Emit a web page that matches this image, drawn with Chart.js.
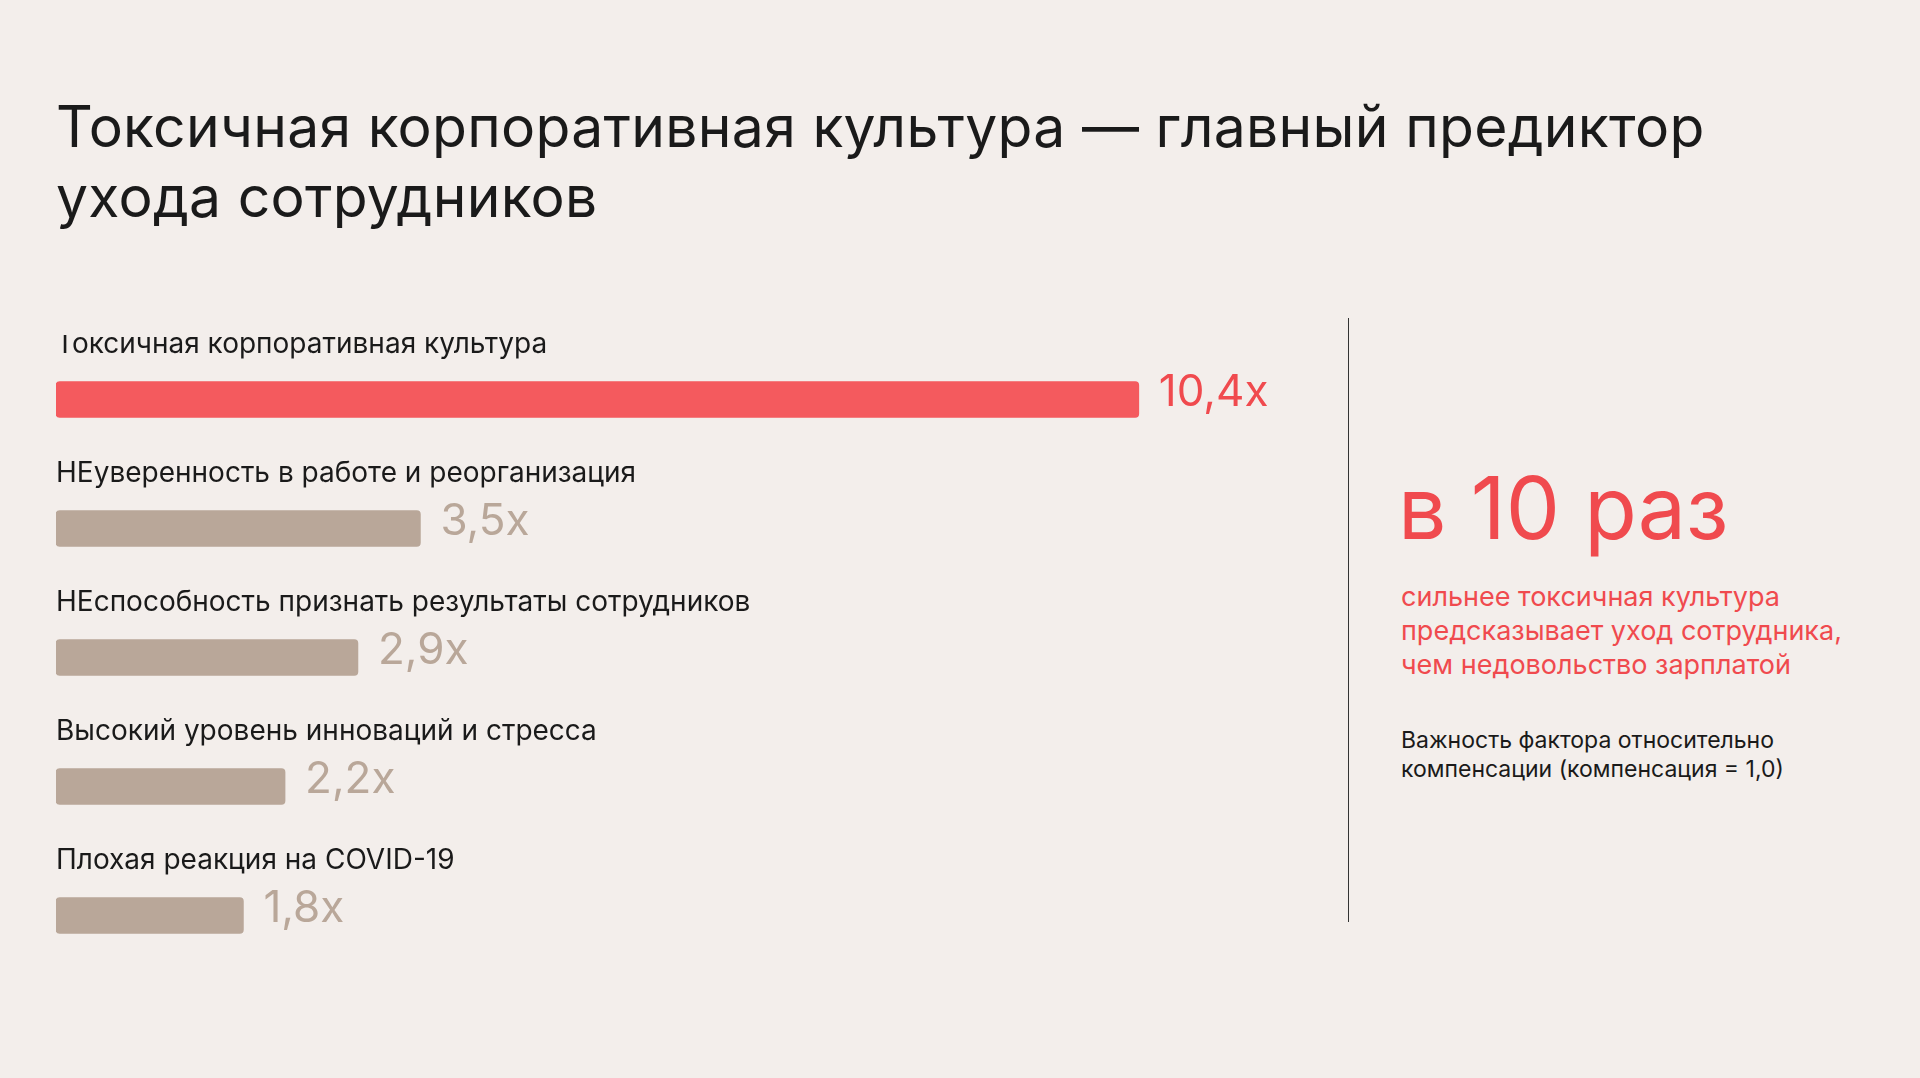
<!DOCTYPE html>
<html><head><meta charset="utf-8">
<script src="https://cdn.jsdelivr.net/npm/chart.js@4"></script>
<style>
body{margin:0;width:1920px;height:1078px;background:#f3eeeb;font-family:Inter,"Noto Sans",sans-serif;overflow:hidden;position:relative;color:#1a1a1a}
h1{position:absolute;left:56px;top:92px;margin:0;font-weight:400;font-size:57px;line-height:70px;letter-spacing:0.3px}
#wrap{position:absolute;left:56px;top:335px;width:1290px;height:645px}
#vline{position:absolute;left:1348px;top:318px;width:1px;height:604px;background:#333}
.big{position:absolute;left:1398px;top:458px;font-size:86px;color:#f04a4e;line-height:100px}
.sub{position:absolute;left:1401px;top:580px;font-size:27px;line-height:34px;color:#f04a4e}
.note{position:absolute;left:1401px;top:726px;font-size:23px;line-height:29px;color:#1a1a1a}
</style></head><body>
<h1>Токсичная корпоративная культура — главный предиктор<br>ухода сотрудников</h1>
<div id="wrap"><canvas id="c"></canvas></div>
<div id="vline"></div>
<div class="big">в 10 раз</div>
<div class="sub">сильнее токсичная культура<br>предсказывает уход сотрудника,<br>чем недовольство зарплатой</div>
<div class="note">Важность фактора относительно<br>компенсации (компенсация = 1,0)</div>
<script>
const categories = ['Токсичная корпоративная культура','НЕуверенность в работе и реорганизация','НЕспособность признать результаты сотрудников','Высокий уровень инноваций и стресса','Плохая реакция на COVID-19'];
const values = [10.4, 3.5, 2.9, 2.2, 1.8];
const valueLabels = ['10,4x','3,5x','2,9x','2,2x','1,8x'];
const colors = ['#f45a5e','#b9a799','#b9a799','#b9a799','#b9a799'];
const labelColors = ['#f04a4e','#b9a799','#b9a799','#b9a799','#b9a799'];

const labelsPlugin = {
  id:'labels',
  afterDatasetsDraw(chart){
    const ctx = chart.ctx;
    chart.getDatasetMeta(0).data.forEach((bar,i)=>{
      ctx.save();
      ctx.textBaseline='middle';
      ctx.font='28px Inter, "Noto Sans", sans-serif';
      ctx.fillStyle='#1a1a1a';
      ctx.fillText(categories[i], chart.chartArea.left, bar.y-55);
      ctx.font='44px Inter, "Noto Sans", sans-serif';
      ctx.fillStyle=labelColors[i];
      ctx.fillText(valueLabels[i], bar.x+20, bar.y-7);
      ctx.restore();
    });
  }
};

new Chart(document.getElementById('c'),{
  type:'bar',
  data:{labels:categories,datasets:[{data:values,backgroundColor:colors,barThickness:36,borderRadius:4,borderSkipped:false}]},
  options:{
    indexAxis:'y',responsive:true,maintainAspectRatio:false,animation:false,
    layout:{padding:0},
    plugins:{legend:{display:false},tooltip:{enabled:false}},
    scales:{x:{display:false,min:0,max:12.39},y:{display:false}}
  },
  plugins:[labelsPlugin]
});
</script>
</body></html>
